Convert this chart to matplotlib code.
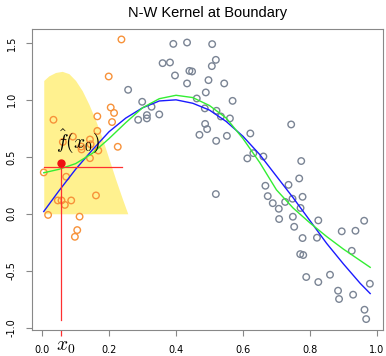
import numpy as np
import matplotlib.pyplot as plt
import matplotlib.transforms as mtransforms

plt.rcParams['mathtext.fontset'] = 'cm'

# points inside the kernel window (orange)
near_x = [0.237, 0.199, 0.034, 0.205, 0.215, 0.209, 0.165, 0.165, 0.092, 0.143,
          0.117, 0.145, 0.118, 0.168, 0.226, 0.143, 0.005, 0.072, 0.161, 0.047,
          0.058, 0.087, 0.068, 0.018, 0.112, 0.105, 0.098, 0.062]
near_y = [1.53, 1.205, 0.825, 0.933, 0.885, 0.805, 0.855, 0.727, 0.677, 0.652,
          0.59, 0.61, 0.565, 0.555, 0.588, 0.488, 0.363, 0.325, 0.161, 0.117,
          0.117, 0.117, 0.078, -0.01, -0.025, -0.143, -0.202, 0.63]

# remaining points (grey)
far_x = [0.257, 0.299, 0.287, 0.313, 0.313, 0.392, 0.433, 0.508, 0.360, 0.382,
         0.519, 0.507, 0.440, 0.448, 0.397, 0.497, 0.433, 0.544, 0.489, 0.569,
         0.462, 0.327, 0.486, 0.521, 0.534, 0.561, 0.350, 0.487, 0.493, 0.470,
         0.552, 0.520, 0.622, 0.631, 0.661, 0.613, 0.744, 0.774, 0.768, 0.519,
         0.667, 0.674, 0.736, 0.689, 0.707, 0.726, 0.748, 0.778, 0.772, 0.708,
         0.749, 0.753, 0.825, 0.778, 0.821, 0.771, 0.780, 0.895, 0.936, 0.962,
         0.925, 0.789, 0.825, 0.860, 0.884, 0.887, 0.929, 0.979, 0.963, 0.968]
far_y = [1.088, 0.983, 0.825, 0.837, 0.866, 1.491, 1.503, 1.489, 1.322, 1.328,
         1.351, 1.296, 1.254, 1.249, 1.214, 1.173, 1.144, 1.144, 1.065, 0.991,
         1.012, 0.939, 0.925, 0.904, 0.854, 0.837, 0.872, 0.789, 0.743, 0.693,
         0.684, 0.640, 0.705, 0.532, 0.503, 0.486, 0.784, 0.463, 0.310, 0.173,
         0.246, 0.155, 0.254, 0.093, 0.044, 0.104, 0.132, 0.149, 0.051, -0.046,
         -0.026, -0.114, -0.058, -0.213, -0.210, -0.354, -0.362, -0.154, -0.149, -0.061,
         -0.325, -0.555, -0.599, -0.535, -0.675, -0.748, -0.710, -0.614, -0.842, -0.924]

# true function (blue) and N-W fit (green)
curve_x = [0.005, 0.05, 0.10, 0.15, 0.20, 0.25, 0.30, 0.35, 0.40, 0.45, 0.50,
           0.55, 0.60, 0.65, 0.70, 0.75, 0.80, 0.85, 0.90, 0.95, 0.98]
true_y = [0.02, 0.20, 0.39, 0.56, 0.72, 0.84, 0.93, 0.99, 1.00, 0.97, 0.91,
          0.81, 0.68, 0.52, 0.33, 0.14, -0.06, -0.26, -0.44, -0.61, -0.70]
fit_y = [0.36, 0.39, 0.44, 0.53, 0.66, 0.80, 0.93, 1.01, 1.04, 1.02, 0.95,
         0.84, 0.66, 0.45, 0.21, 0.05, -0.08, -0.20, -0.31, -0.41, -0.47]

# kernel weights shown as shaded region
kern_x = [0.005, 0.02, 0.04, 0.06, 0.08, 0.10, 0.12, 0.14, 0.16, 0.18, 0.20, 0.22, 0.24, 0.256]
kern_y = [1.17, 1.21, 1.24, 1.25, 1.23, 1.17, 1.08, 0.96, 0.82, 0.66, 0.48, 0.30, 0.13, 0.0]

x0 = 0.056
fhat_x0 = 0.445
level = 0.41

fig = plt.figure(figsize=(3.86, 3.56), dpi=100)
ax = fig.add_axes([0.083, 0.073, 0.909, 0.845])

ax.fill_between(kern_x, 0, kern_y, color='#fff18f', lw=0, zorder=1)

ax.scatter(near_x, near_y, s=22, facecolors='none', edgecolors='#f7923a', linewidths=1.0, zorder=3)
ax.scatter(far_x, far_y, s=22, facecolors='none', edgecolors='#7a8494', linewidths=1.0, zorder=3)

ax.plot(curve_x, true_y, color='#1a1aff', lw=1.0, zorder=4)
ax.plot(curve_x, fit_y, color='#33ee33', lw=1.0, zorder=4)

ax.plot([0.005, 0.24], [level, level], color='#ff3030', lw=0.9, zorder=5)
ax.plot([x0, x0], [-0.935, fhat_x0], color='#ff3030', lw=0.9, zorder=5)
ax.plot([x0], [fhat_x0], 'o', color='#ee1111', ms=5, zorder=6)

ax.text(0.107, 0.64, r'$\hat{f}(x_0)$', fontsize=14, ha='center', va='center', zorder=7)
trans = mtransforms.blended_transform_factory(ax.transData, ax.transAxes)
ax.text(0.042, -0.068, r'$x_0$', fontsize=14, ha='left', va='baseline', transform=trans, clip_on=False)

ax.set_xlim(-0.03, 1.018)
ax.set_ylim(-1.02, 1.62)
ax.set_xticks([0.0, 0.2, 0.4, 0.6, 0.8, 1.0])
ax.set_yticks([-1.0, -0.5, 0.0, 0.5, 1.0, 1.5])
ax.set_xticks([x0], minor=True)
ax.set_xticklabels(['0.0', '0.2', '0.4', '0.6', '0.8', '1.0'])
ax.set_yticklabels(['-1.0', '-0.5', '0.0', '0.5', '1.0', '1.5'], rotation=90, va='center')
ax.tick_params(direction='out', length=4, width=0.8, color='#888888', labelsize=7, pad=7)
ax.tick_params(axis='x', which='minor', direction='out', length=4, width=0.9, color='#ff3030')
for s in ax.spines.values():
    s.set_color('#888888')
    s.set_linewidth(0.8)

ax.set_title('N-W Kernel at Boundary', fontsize=10.5, family='Liberation Sans', pad=9)

plt.savefig('out.png', dpi=100)
